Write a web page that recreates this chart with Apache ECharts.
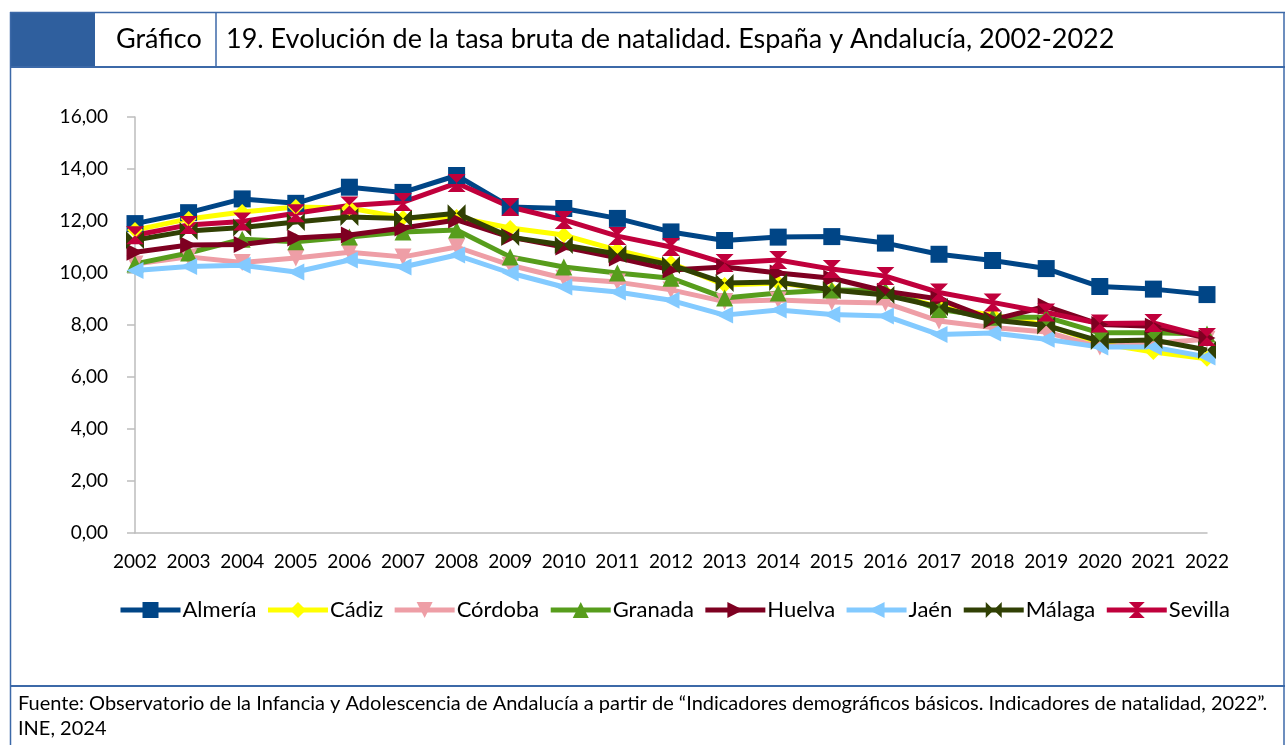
<!DOCTYPE html>
<html><head><meta charset="utf-8">
<script src="https://cdn.jsdelivr.net/npm/echarts@6/dist/echarts.min.js"></script>
<style>html,body{margin:0;padding:0;background:#fff}#c{width:1285px;height:745px}</style>
</head><body><div id="c"></div>
<script>
const years = ['2002','2003','2004','2005','2006','2007','2008','2009','2010','2011','2012','2013','2014','2015','2016','2017','2018','2019','2020','2021','2022'];
const almeria = [11.9, 12.32, 12.85, 12.68, 13.3, 13.1, 13.75, 12.54, 12.48, 12.1, 11.58, 11.25, 11.38, 11.4, 11.15, 10.72, 10.48, 10.17, 9.48, 9.38, 9.17];
const cadiz = [11.65, 12.08, 12.35, 12.54, 12.5, 12.12, 12.15, 11.73, 11.46, 10.88, 10.38, 9.54, 9.62, 9.35, 9.27, 8.7, 8.38, 8.0, 7.3, 6.96, 6.7];
const cordoba = [10.35, 10.62, 10.4, 10.58, 10.8, 10.62, 11.0, 10.3, 9.8, 9.65, 9.35, 8.9, 8.96, 8.88, 8.85, 8.15, 7.9, 7.73, 7.15, 7.3, 7.45];
const granada = [10.35, 10.77, 11.3, 11.2, 11.38, 11.58, 11.65, 10.62, 10.23, 10.0, 9.8, 9.04, 9.23, 9.35, 9.33, 8.6, 8.3, 8.3, 7.7, 7.7, 7.65];
const huelva = [10.8, 11.08, 11.1, 11.35, 11.46, 11.73, 12.04, 11.38, 11.0, 10.58, 10.12, 10.23, 10.0, 9.8, 9.3, 9.0, 8.2, 8.72, 8.02, 7.95, 7.5];
const jaen = [10.1, 10.25, 10.3, 10.04, 10.5, 10.23, 10.69, 10.0, 9.46, 9.27, 8.95, 8.38, 8.58, 8.4, 8.35, 7.63, 7.69, 7.45, 7.15, 7.15, 6.77];
const malaga = [11.27, 11.62, 11.75, 11.96, 12.15, 12.1, 12.3, 11.38, 11.08, 10.73, 10.31, 9.62, 9.65, 9.35, 9.15, 8.69, 8.19, 7.98, 7.38, 7.42, 7.04];
const sevilla = [11.45, 11.85, 11.98, 12.3, 12.6, 12.73, 13.46, 12.54, 12.04, 11.42, 11.0, 10.38, 10.5, 10.15, 9.88, 9.25, 8.87, 8.48, 8.06, 8.08, 7.54];

const FONT = 'Lato';
const BORDER = '#3C69A8';
const bowtieH = 'path://M0,0 L10,10 L0,20 Z M20,0 L10,10 L20,20 Z';
const hourglass = 'path://M0,0 L20,0 L10,10 Z M0,20 L20,20 L10,10 Z';

function mk(name, data, color, symbol, size, rot) {
  return {
    name, type: 'line', data, symbol, symbolSize: size, symbolRotate: rot || 0,
    showSymbol: true,
    lineStyle: {color, width: 5},
    itemStyle: {color, borderWidth: 0},
    emphasis: {disabled: true}, animation: false
  };
}

const chart = echarts.init(document.getElementById('c'), null, {renderer: 'canvas'});
chart.setOption({
  animation: false,
  textStyle: {fontFamily: FONT},
  grid: {left: 135, right: 78, top: 117, bottom: 212, containLabel: false},
  xAxis: {
    type: 'category', data: years, boundaryGap: false,
    axisLine: {lineStyle: {color: '#BDBDBD', width: 1.5}},
    axisTick: {show: false},
    axisLabel: {color: '#000', fontSize: 19, fontFamily: FONT, margin: 19, interval: 0}
  },
  yAxis: {
    type: 'value', min: 0, max: 16, interval: 2,
    axisLine: {show: true, lineStyle: {color: '#BDBDBD', width: 1.5}},
    axisTick: {show: true, inside: false, length: 8, lineStyle: {color: '#BDBDBD', width: 1.5}},
    splitLine: {show: false},
    axisLabel: {color: '#000', fontSize: 19, fontFamily: FONT, margin: 27,
      formatter: v => v.toFixed(2).replace('.', ',')}
  },
  legend: {
    top: 594, left: 113, itemWidth: 60, itemHeight: 20, itemGap: 9,
    lineStyle: {width: 5},
    textStyle: {fontSize: 22, color: '#000', fontFamily: FONT, padding: [0, 0, 0, -3]},
    data: ['Almería','Cádiz','Córdoba','Granada','Huelva','Jaén','Málaga','Sevilla']
  },
  series: [
    mk('Almería', almeria, '#004586', 'rect', 17),
    mk('Cádiz', cadiz, '#FFFF00', 'diamond', 16),
    mk('Córdoba', cordoba, '#EE9EA6', 'triangle', 17, 180),
    mk('Granada', granada, '#579D1C', 'triangle', 17),
    mk('Huelva', huelva, '#7E0021', 'triangle', 17, -90),
    mk('Jaén', jaen, '#83CAFF', 'triangle', 17, 90),
    mk('Málaga', malaga, '#314004', bowtieH, 18),
    mk('Sevilla', sevilla, '#C0003C', hourglass, 18)
  ],
  graphic: [
    {type: 'rect', shape: {x: 10, y: 12, width: 85, height: 55}, style: {fill: '#2F5F9E'}},
    {type: 'line', shape: {x1: 10, y1: 12.5, x2: 1285, y2: 12.5}, style: {stroke: BORDER, lineWidth: 1.5}},
    {type: 'line', shape: {x1: 10, y1: 67, x2: 1285, y2: 67}, style: {stroke: BORDER, lineWidth: 2}},
    {type: 'line', shape: {x1: 216, y1: 12, x2: 216, y2: 67}, style: {stroke: BORDER, lineWidth: 1.5}},
    {type: 'line', shape: {x1: 10.5, y1: 12, x2: 10.5, y2: 745}, style: {stroke: BORDER, lineWidth: 1.5}},
    {type: 'line', shape: {x1: 1284, y1: 12, x2: 1284, y2: 745}, style: {stroke: BORDER, lineWidth: 1.5}},
    {type: 'line', shape: {x1: 10, y1: 686, x2: 1285, y2: 686}, style: {stroke: BORDER, lineWidth: 2}},
    {type: 'text', left: 116, top: 26, style: {text: 'Gráfico', font: '27px ' + FONT, fill: '#000'}},
    {type: 'text', left: 226, top: 26, style: {text: '19. Evolución de la tasa bruta de natalidad. España y Andalucía, 2002-2022', font: '27px ' + FONT, fill: '#000'}},
    {type: 'text', left: 18, top: 694, style: {text: 'Fuente: Observatorio de la Infancia y Adolescencia de Andalucía a partir de “Indicadores demográficos básicos. Indicadores de natalidad, 2022”.', font: '20px ' + FONT, fill: '#000'}},
    {type: 'text', left: 18, top: 719, style: {text: 'INE, 2024', font: '20px ' + FONT, fill: '#000'}}
  ]
});
</script></body></html>
